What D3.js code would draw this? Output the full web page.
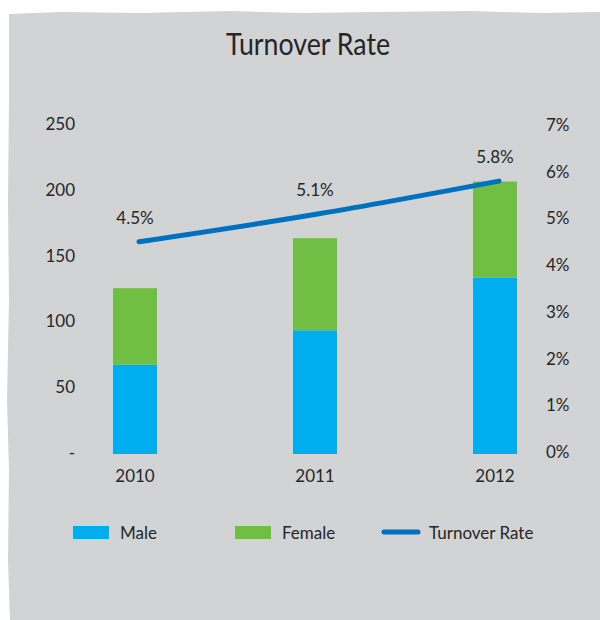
<!DOCTYPE html>
<html lang="en">
<head>
  <meta charset="UTF-8">
  <title>Turnover Rate</title>
  <script src="https://d3js.org/d3.v7.min.js"></script>
  <style>
    html, body { margin: 0; padding: 0; background: #fff; }
    svg { display: block; font-family: Lato, "Noto Sans", sans-serif; }
    .lbl { fill: #262626; font-size: 17px; }
  </style>
</head>
<body>
  <svg width="600" height="620"></svg>
  <script>
    const years   = ["2010", "2011", "2012"];
    const male    = [68, 94, 134];
    const female  = [58, 70, 73];
    const rate    = [0.045, 0.051, 0.058];
    const leftTicks  = [0, 50, 100, 150, 200, 250];
    const rightTicks = [0, 0.01, 0.02, 0.03, 0.04, 0.05, 0.06, 0.07];

    const svg = d3.select("svg");

    // rough paper-like gray panel
    const edge = d3.line().curve(d3.curveLinear);
    svg.append("path")
      .attr("d", edge([[9,14],[60,12],[140,13],[230,11],[300,13],[380,12],[470,11],[540,13],[600,12],
                       [600,620],[10,620],[8,560],[9,470],[7,400],[9,300],[8,200],[9,100]]) + "Z")
      .attr("fill", "#d1d3d4");

    svg.append("text").attr("class", "lbl")
      .attr("x", 226).attr("y", 55)
      .attr("textLength", 164).attr("lengthAdjust", "spacingAndGlyphs")
      .style("font-size", "30px")
      .text("Turnover Rate");

    const x  = d3.scalePoint().domain(years).range([45, 585]).padding(0.5);
    const y  = d3.scaleLinear().domain([0, 250]).range([454, 125]);
    const y2 = d3.scaleLinear().domain([0, 0.07]).range([452, 125]);
    const barW = 44;

    // left axis labels
    svg.append("g").selectAll("text").data(leftTicks).join("text")
      .attr("class", "lbl").attr("text-anchor", "end")
      .attr("x", 75).attr("y", d => y(d) - 1).attr("dy", "0.35em")
      .text(d => d === 0 ? "-" : d);

    // right axis labels
    svg.append("g").selectAll("text").data(rightTicks).join("text")
      .attr("class", "lbl").attr("text-anchor", "start")
      .attr("x", 546).attr("y", d => y2(d)).attr("dy", "0.35em")
      .text(d => d3.format(".0%")(d));

    // stacked bars
    const stack = years.map((yr, i) => ({ yr, m: male[i], f: female[i] }));
    const g = svg.append("g");
    g.selectAll(".male").data(stack).join("rect")
      .attr("x", d => x(d.yr) - barW / 2).attr("width", barW)
      .attr("y", d => y(d.m)).attr("height", d => y(0) - y(d.m))
      .attr("fill", "#00aeef");
    g.selectAll(".female").data(stack).join("rect")
      .attr("x", d => x(d.yr) - barW / 2).attr("width", barW)
      .attr("y", d => y(d.m + d.f)).attr("height", d => y(d.m) - y(d.m + d.f))
      .attr("fill", "#70bf44");

    // year labels
    svg.append("g").selectAll("text").data(years).join("text")
      .attr("class", "lbl").attr("text-anchor", "middle")
      .attr("x", d => x(d)).attr("y", 482)
      .text(d => d);

    // turnover line
    const pts = years.map((yr, i) => [x(yr) + 4, y2(rate[i])]);
    svg.append("path")
      .attr("d", d3.line().curve(d3.curveMonotoneX)(pts))
      .attr("fill", "none").attr("stroke", "#0070c0")
      .attr("stroke-width", 5).attr("stroke-linecap", "round");

    svg.append("g").selectAll("text").data(years).join("text")
      .attr("class", "lbl").attr("text-anchor", "middle")
      .attr("x", d => x(d)).attr("y", (d, i) => y2(rate[i]) - 24).attr("dy", "0.35em")
      .text((d, i) => d3.format(".1%")(rate[i]));

    // legend
    const legend = svg.append("g");
    legend.append("rect").attr("x", 73).attr("y", 526).attr("width", 36).attr("height", 13).attr("fill", "#00aeef");
    legend.append("text").attr("class", "lbl").attr("x", 120).attr("y", 539).text("Male");
    legend.append("rect").attr("x", 235).attr("y", 526).attr("width", 36).attr("height", 13).attr("fill", "#70bf44");
    legend.append("text").attr("class", "lbl").attr("x", 282).attr("y", 539).text("Female");
    legend.append("line").attr("x1", 384).attr("x2", 418).attr("y1", 532).attr("y2", 532)
      .attr("stroke", "#0070c0").attr("stroke-width", 5).attr("stroke-linecap", "round");
    legend.append("text").attr("class", "lbl").attr("x", 429).attr("y", 539).text("Turnover Rate");
  </script>
</body>
</html>
